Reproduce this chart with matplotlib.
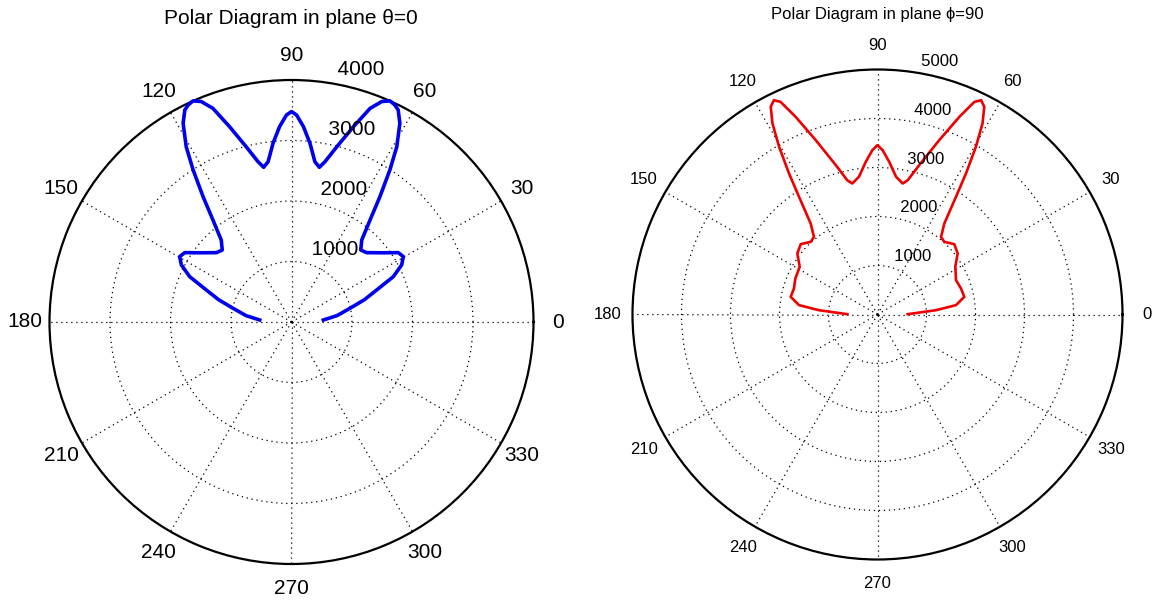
import numpy as np
import matplotlib
matplotlib.use("Agg")
import matplotlib.pyplot as plt

plt.rcParams['font.family'] = ['Liberation Sans', 'DejaVu Sans']

# ---- data: left chart (plane theta=0) ----
blue_angles = [3.6, 8, 13.2, 17, 20.6, 24, 27.4, 30.3, 33, 37, 42.7, 46.1, 49.4, 52.4, 54.8,
               57.1, 59, 61.4, 63.3, 64.6, 66, 67.7, 69.8, 72.4, 75.5, 78.2, 79.8, 81.7, 84.1,
               86.5, 88.6, 90,
               91.4, 93.5, 95.9, 98.3, 100.2, 101.8, 104.5, 107.6, 110.2, 112.3, 114, 115.4, 116.7,
               118.6, 121, 122.9, 125.2, 127.6, 130.6, 133.9, 137.3, 143, 147, 149.7, 152.6, 156,
               159.4, 163, 166.8, 172, 176.4]
blue_r = [527, 760, 993, 1260, 1504, 1842, 2051, 2141, 2105, 1901, 1690, 1651, 1784, 2128, 2536,
          2994, 3379, 3742, 3924, 3975, 4000, 3940, 3763, 3387, 2992, 2707, 2598, 2678, 2970,
          3235, 3422, 3478,
          3422, 3235, 2970, 2678, 2598, 2707, 2992, 3387, 3763, 3940, 4000, 3975, 3924,
          3742, 3379, 2994, 2536, 2128, 1784, 1651, 1690, 1901, 2105, 2141, 2051, 1842,
          1504, 1260, 993, 760, 527]
left_rings = [1000, 2000, 3000]
left_rmax = 4000

# ---- data: right chart (plane phi=90) ----
red_angles = [0.6, 4.2, 6.8, 11.5, 17.3, 23.6, 31.5, 37.3, 42.5, 47.4, 50.7, 53.7, 56.3, 57.9,
              59.6, 61.2, 62.8, 64.2, 65.5, 67.5, 70.5, 74.4, 77.3, 79.1, 82.3, 85.6, 88.2, 90,
              91.8, 94.4, 97.7, 100.9, 102.7, 105.6, 109.5, 112.5, 114.5, 115.8, 117.2, 118.8,
              120.4, 122.1, 123.7, 126.3, 129.3, 132.6, 137.5, 142.7, 148.5, 156.4, 162.7, 168.5,
              173.2, 175.8, 179.4]
red_r = [616, 1197, 1613, 1808, 1785, 1749, 1862, 2057, 2125, 2014, 2047, 2304, 2886, 3398,
         3968, 4450, 4766, 4858, 4768, 4366, 3775, 3165, 2809, 2723, 2834, 3124, 3355, 3456,
         3355, 3124, 2834, 2723, 2809, 3165, 3775, 4366, 4768, 4858, 4766, 4450,
         3968, 3398, 2886, 2304, 2047, 2014, 2125, 2057, 1862, 1830, 1785, 1808,
         1613, 1197, 616]
right_rings = [1000, 2000, 3000, 4000]
right_rmax = 5000

spoke_angles = list(range(0, 360, 30))
spoke_labels = [str(a) for a in spoke_angles]

W, H = 1157, 605
fig = plt.figure(figsize=(W / 100, H / 100), dpi=100)


def make_axes(cx, cy, rad):
    return fig.add_axes([(cx - rad) / W, (H - cy - rad) / H, 2 * rad / W, 2 * rad / H],
                        projection='polar')


def setup(ax, rmax, rings, fs, color, angles, radii, lw):
    ax.set_ylim(0, rmax)
    ax.set_thetagrids(spoke_angles, labels=[''] * len(spoke_angles))
    ax.set_rgrids(rings, labels=[''] * len(rings))
    ax.grid(True, color='black', linestyle=(0, (1, 3)), linewidth=0.9)
    ax.spines['polar'].set_linewidth(1.6)
    ax.spines['polar'].set_color('black')
    ax.tick_params(length=0)
    ax.plot(np.deg2rad(angles), radii, color=color, linewidth=lw, zorder=3, clip_on=False,
            solid_joinstyle='round')
    for a, lab in zip(spoke_angles, spoke_labels):
        ax.text(np.deg2rad(a), 1.1 * rmax, lab, ha='center', va='center', fontsize=fs,
                clip_on=False)
    rinc = rings[0]
    for r in rings + [rmax]:
        ax.text(np.deg2rad(82), r + rinc / 20, '  ' + str(r), ha='left', va='bottom',
                fontsize=fs, zorder=5, clip_on=False)


axL = make_axes(291.5, 322, 242)
setup(axL, left_rmax, left_rings, 15, '#0000ee', blue_angles, blue_r, 2.6)
axR = make_axes(877.5, 314.5, 245)
setup(axR, right_rmax, right_rings, 12, '#ee0000', red_angles, red_r, 1.9)

fig.text(290.5 / W, 1 - 19 / H, 'Polar Diagram in plane θ=0', ha='center', va='center',
         fontsize=15)
fig.text(877 / W, 1 - 15 / H, 'Polar Diagram in plane ϕ=90', ha='center', va='center',
         fontsize=12)

fig.savefig('out.png', dpi=100)
